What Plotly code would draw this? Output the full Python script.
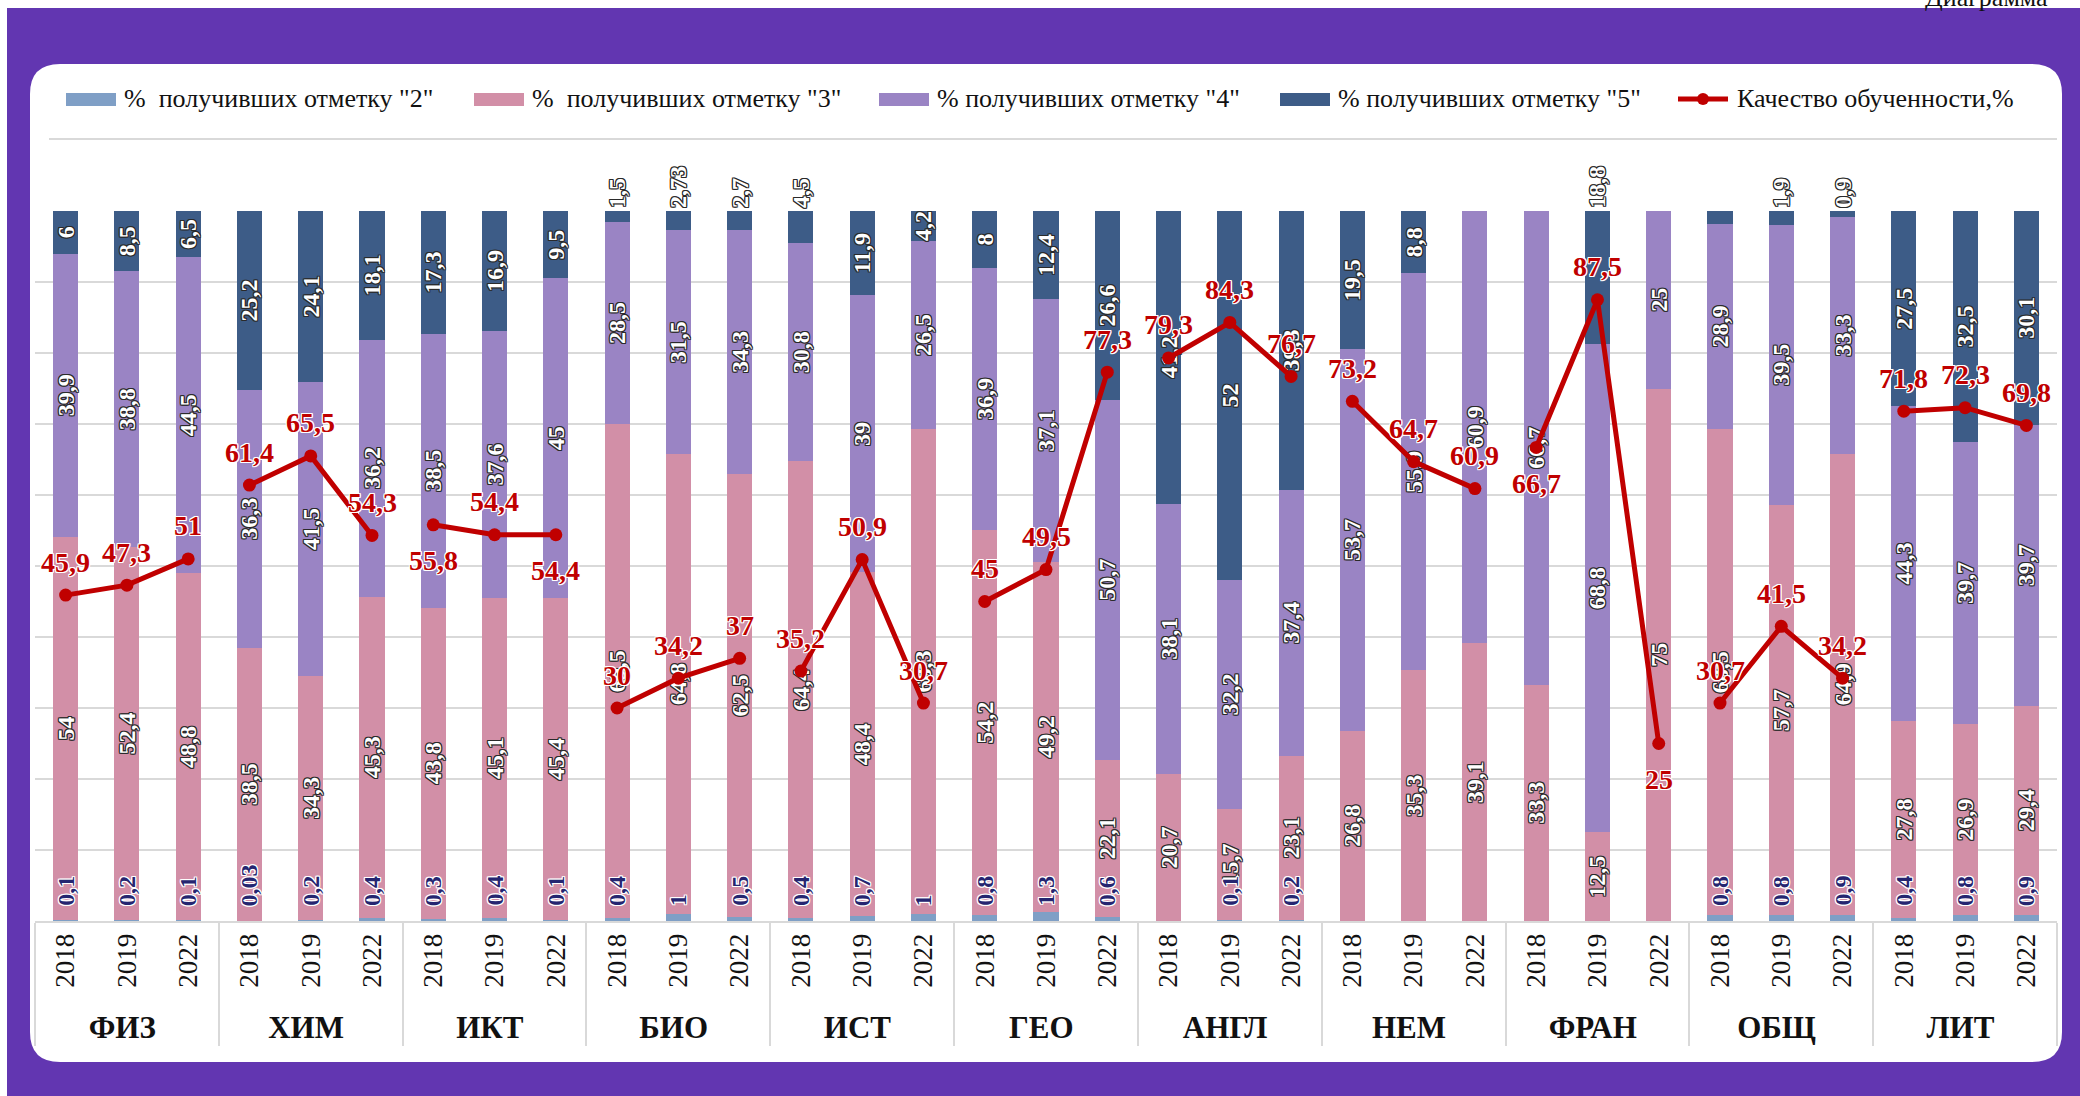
import plotly.graph_objects as go

# ---------------- data ----------------
subjects = ["ФИЗ", "ХИМ", "ИКТ", "БИО", "ИСТ", "ГЕО", "АНГЛ", "НЕМ", "ФРАН", "ОБЩ", "ЛИТ"]
years = ["2018", "2019", "2022"]

grade2 = [0.1, 0.2, 0.1, 0.03, 0.2, 0.4, 0.3, 0.4, 0.1, 0.4, 1, 0.5, 0.4, 0.7, 1,
          0.8, 1.3, 0.6, 0, 0.1, 0.2, 0, 0, 0, 0, 0, 0, 0.8, 0.8, 0.9, 0.4, 0.8, 0.9]
grade3 = [54, 52.4, 48.8, 38.5, 34.3, 45.3, 43.8, 45.1, 45.4, 69.5, 64.8, 62.5, 64.4, 48.4, 68.3,
          54.2, 49.2, 22.1, 20.7, 15.7, 23.1, 26.8, 35.3, 39.1, 33.3, 12.5, 75, 68.5, 57.7, 64.9,
          27.8, 26.9, 29.4]
grade4 = [39.9, 38.8, 44.5, 36.3, 41.5, 36.2, 38.5, 37.6, 45, 28.5, 31.5, 34.3, 30.8, 39, 26.5,
          36.9, 37.1, 50.7, 38.1, 32.2, 37.4, 53.7, 55.9, 60.9, 66.7, 68.8, 25, 28.9, 39.5, 33.3,
          44.3, 39.7, 39.7]
grade5 = [6, 8.5, 6.5, 25.2, 24.1, 18.1, 17.3, 16.9, 9.5, 1.5, 2.73, 2.7, 4.5, 11.9, 4.2,
          8, 12.4, 26.6, 41.2, 52, 39.3, 19.5, 8.8, 0, 0, 18.8, 0, 1.8, 1.9, 0.9,
          27.5, 32.5, 30.1]
quality = [45.9, 47.3, 51, 61.4, 65.5, 54.3, 55.8, 54.4, 54.4, 30, 34.2, 37, 35.2, 50.9, 30.7,
           45, 49.5, 77.3, 79.3, 84.3, 76.7, 73.2, 64.7, 60.9, 66.7, 87.5, 25, 30.7, 41.5, 34.2,
           71.8, 72.3, 69.8]

series_names = ['%\u00a0 получивших отметку "2"', '%\u00a0 получивших отметку "3"',
                '% получивших отметку "4"', '% получивших отметку "5"']
line_name = "Качество обученности,%"

# ---------------- styles ----------------
W, H = 2080, 1096
ML, MR, MT, MB = 35, 23, 211, 175
PW, PH = W - ML - MR, H - MT - MB
C2, C3, C4, C5 = "#7F9FC6", "#D28FA7", "#9A84C4", "#3D5C87"
RED = "#C00000"
PURPLE = "#6236B1"
GRID = "#D9D9D9"
SERIF = "Liberation Serif"


def ring(c, w=1):
    return ", ".join(f"{dx}px {dy}px 0 {c}" for dx in (-w, 0, w) for dy in (-w, 0, w) if dx or dy)


def fmt(v):
    return "" if v == 0 else f"{v:g}".replace(".", ",")


def xp(px):
    return (px - ML) / PW


def yp(py):
    return (MT + PH - py) / PH


sub_fmt = [f"<span style='font-size:31px'><b>{s}</b></span>" for s in subjects]
xcat = [[s for s in sub_fmt for _ in years], [y for _ in subjects for y in years]]
n_bars = len(xcat[1])

bar_font = dict(family=SERIF, size=24, color="white", weight="bold", shadow=ring("#2a2a2a"))

fig = go.Figure()

# grade 2 (labels are drawn as annotations so they sit above the stacked bars)
fig.add_trace(go.Bar(x=xcat, y=grade2, name=series_names[0], marker=dict(color=C2, line=dict(width=0)),
                     showlegend=False, hoverinfo="skip"))
for vals, col, nm in [(grade3, C3, series_names[1]), (grade4, C4, series_names[2])]:
    fig.add_trace(go.Bar(x=xcat, y=vals, name=nm, marker=dict(color=col, line=dict(width=0)),
                         text=[fmt(v) for v in vals], textposition="inside", insidetextanchor="middle",
                         textangle=-90, constraintext="none", textfont=bar_font, cliponaxis=False,
                         showlegend=False))
outside_idx = {9, 10, 11, 12, 25, 27, 28, 29}
fig.add_trace(go.Bar(x=xcat, y=grade5, name=series_names[3], marker=dict(color=C5, line=dict(width=0)),
                     text=[fmt(v) for v in grade5],
                     textposition=["outside" if i in outside_idx else "inside" for i in range(len(grade5))],
                     insidetextanchor="middle", textangle=-90, constraintext="none",
                     textfont=bar_font, cliponaxis=False, showlegend=False))

# quality line: one segment per subject
for k, s in enumerate(subjects):
    sl = slice(3 * k, 3 * k + 3)
    fig.add_trace(go.Scatter(x=[xcat[0][sl], xcat[1][sl]], y=quality[sl], mode="lines+markers",
                             line=dict(color=RED, width=5), marker=dict(color=RED, size=13),
                             cliponaxis=False, showlegend=False, name=line_name))

# ---------------- decorations ----------------
shapes = []
r = 30
x0, x1, y0, y1 = 30, 2062, 64, 1062
rx, ry = r / PW, r / PH
X0, X1, Y0, Y1 = xp(x0), xp(x1), yp(y0), yp(y1)
panel = (f"M{X0 + rx},{Y0} L{X1 - rx},{Y0} Q{X1},{Y0} {X1},{Y0 - ry} L{X1},{Y1 + ry} "
         f"Q{X1},{Y1} {X1 - rx},{Y1} L{X0 + rx},{Y1} Q{X0},{Y1} {X0},{Y1 + ry} "
         f"L{X0},{Y0 - ry} Q{X0},{Y0} {X0 + rx},{Y0} Z")
shapes.append(dict(type="rect", xref="paper", yref="paper", x0=xp(0), x1=xp(W), y0=yp(0), y1=yp(8),
                   fillcolor="white", line=dict(width=0), layer="below"))
shapes.append(dict(type="rect", xref="paper", yref="paper", x0=xp(0), x1=xp(7), y0=yp(0), y1=yp(H),
                   fillcolor="white", line=dict(width=0), layer="below"))
shapes.append(dict(type="path", xref="paper", yref="paper", path=panel, fillcolor="white",
                   line=dict(width=0), layer="below"))
shapes.append(dict(type="line", xref="paper", yref="paper", x0=xp(49), x1=xp(2057), y0=yp(139), y1=yp(139),
                   line=dict(color=GRID, width=2), layer="below"))

annotations = []
leg_y = 99
leg_font = dict(family=SERIF, size=26, color="#111111")
sw_x = [66, 474, 879, 1280]
for sx, col, nm in zip(sw_x, [C2, C3, C4, C5], series_names):
    shapes.append(dict(type="rect", xref="paper", yref="paper", x0=xp(sx), x1=xp(sx + 50),
                       y0=yp(leg_y - 6), y1=yp(leg_y + 7), fillcolor=col, line=dict(width=0)))
    annotations.append(dict(xref="paper", yref="paper", x=xp(sx + 56), y=yp(leg_y), text=nm,
                            xanchor="left", yanchor="middle", showarrow=False, font=leg_font))
lx = 1678
shapes.append(dict(type="line", xref="paper", yref="paper", x0=xp(lx), x1=xp(lx + 50), y0=yp(leg_y), y1=yp(leg_y),
                   line=dict(color=RED, width=5)))
shapes.append(dict(type="circle", xref="paper", yref="paper", x0=xp(lx + 19), x1=xp(lx + 31),
                   y0=yp(leg_y + 6), y1=yp(leg_y - 6), fillcolor=RED, line=dict(width=0)))
annotations.append(dict(xref="paper", yref="paper", x=xp(lx + 57), y=yp(leg_y), text=line_name,
                        xanchor="left", yanchor="middle", showarrow=False, font=leg_font))

# clipped caption at the very top right
annotations.append(dict(xref="paper", yref="paper", x=xp(2050), y=yp(14), text="Диаграмма",
                        xanchor="right", yanchor="bottom", showarrow=False, font=leg_font))

# grade 2 labels
g2_font = dict(family=SERIF, size=24, color="#252570", weight="bold", shadow=ring("white"))
for i, v in enumerate(grade2):
    if v:
        annotations.append(dict(xref="x", yref="y", x=i, y=0, text=fmt(v), textangle=-90,
                                xanchor="center", yanchor="bottom", yshift=13, showarrow=False,
                                font=g2_font))

# quality labels
below_idx = {6, 8, 24, 26}
q_font = dict(family=SERIF, size=28, color=RED, weight="bold", shadow=ring("white"))
for i, v in enumerate(quality):
    annotations.append(dict(xref="x", yref="y", x=i, y=v, text=fmt(v), xanchor="center",
                            yanchor="middle", yshift=-36 if i in below_idx else 33,
                            showarrow=False, font=q_font))

fig.update_layout(
    width=W, height=H, autosize=False,
    margin=dict(l=ML, r=MR, t=MT, b=MB, pad=0),
    paper_bgcolor=PURPLE, plot_bgcolor="rgba(0,0,0,0)",
    barmode="stack", barnorm="percent", bargap=0.59,
    showlegend=False,
    shapes=shapes, annotations=annotations,
    xaxis=dict(type="multicategory", autorange=False, range=[-0.5, n_bars - 0.5],
               showline=True, linecolor=GRID, linewidth=2, automargin=False,
               showdividers=True, dividercolor=GRID, dividerwidth=2, tickangle=-90, ticks="",
               tickfont=dict(family=SERIF, size=27, color="#111111"), showgrid=False),
    yaxis=dict(range=[0, 100], dtick=10, showticklabels=False, gridcolor=GRID, gridwidth=2,
               zeroline=False, showline=False, automargin=False),
)

fig.write_html("out.html", config={"displayModeBar": False},
               post_script="document.body.style.margin='0';")
